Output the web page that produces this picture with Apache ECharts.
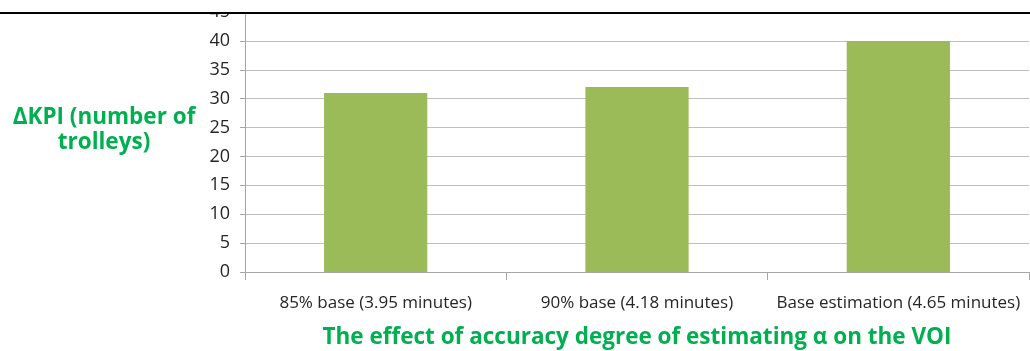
<!DOCTYPE html>
<html>
<head>
<meta charset="utf-8">
<script src="https://cdn.jsdelivr.net/npm/echarts@6/dist/echarts.min.js"></script>
<style>
  html, body { margin: 0; padding: 0; background: #fff; }
  #chart { width: 1030px; height: 351px; }
</style>
</head>
<body>
<div id="chart"></div>
<script>
// Scenario categories along the x axis
const categories = [
  '85% base (3.95 minutes)',
  '90% base (4.18 minutes)',
  'Base estimation (4.65 minutes)'
];
// ΔKPI values (number of trolleys) for each scenario
const kpiDelta = [31, 32, 40];
// Value axis range
const yMin = 0;
const yMax = 45;
const yStep = 5;

const xTitle = 'The effect of accuracy degree of estimating \u03b1 on the VOI';
const yTitle = '\u0394KPI (number of\ntrolleys)';

const labelFont = '"Open Sans", "Noto Sans", sans-serif';
const green = '#00B050';

const chart = echarts.init(document.getElementById('chart'), null, { renderer: 'canvas' });
chart.setOption({
  animation: false,
  backgroundColor: '#ffffff',
  grid: { left: 245, right: 1, top: 12, bottom: 79, containLabel: false, outerBoundsMode: 'none' },
  xAxis: {
    type: 'category',
    data: categories,
    boundaryGap: true,
    axisLine: { show: true, lineStyle: { color: '#A6A6A6', width: 1 } },
    axisTick: { show: true, length: 8, alignWithLabel: false, lineStyle: { color: '#A6A6A6' } },
    axisLabel: { color: '#262626', fontSize: 17, fontFamily: labelFont, margin: 23, interval: 0 },
    name: xTitle,
    nameLocation: 'middle',
    nameGap: 54,
    nameTextStyle: { color: green, fontSize: 22.5, fontWeight: 'bold', fontFamily: labelFont }
  },
  yAxis: {
    type: 'value',
    min: yMin,
    max: yMax,
    interval: yStep,
    axisLine: { show: true, lineStyle: { color: '#A6A6A6', width: 1 } },
    axisTick: { show: true, length: 5, lineStyle: { color: '#A6A6A6' } },
    splitLine: { show: true, lineStyle: { color: '#BFBFBF', width: 1 } },
    axisLabel: { color: '#262626', fontSize: 18, fontFamily: labelFont, margin: 15 }
  },
  series: [{
    type: 'bar',
    data: kpiDelta,
    barWidth: '39.5%',
    itemStyle: { color: '#9BBB59' }
  }],
  graphic: [
    {
      type: 'text',
      x: 104,
      y: 130,
      z: 50,
      style: {
        text: yTitle,
        fill: green,
        font: 'bold 22.5px ' + labelFont,
        align: 'center',
        verticalAlign: 'middle',
        lineHeight: 25
      }
    },
    {
      type: 'rect',
      z: 100,
      shape: { x: 0, y: 0, width: 1030, height: 12 },
      style: { fill: '#ffffff' }
    },
    {
      type: 'rect',
      z: 101,
      shape: { x: 0, y: 12, width: 1030, height: 2 },
      style: { fill: '#000000' }
    }
  ]
});
</script>
</body>
</html>
